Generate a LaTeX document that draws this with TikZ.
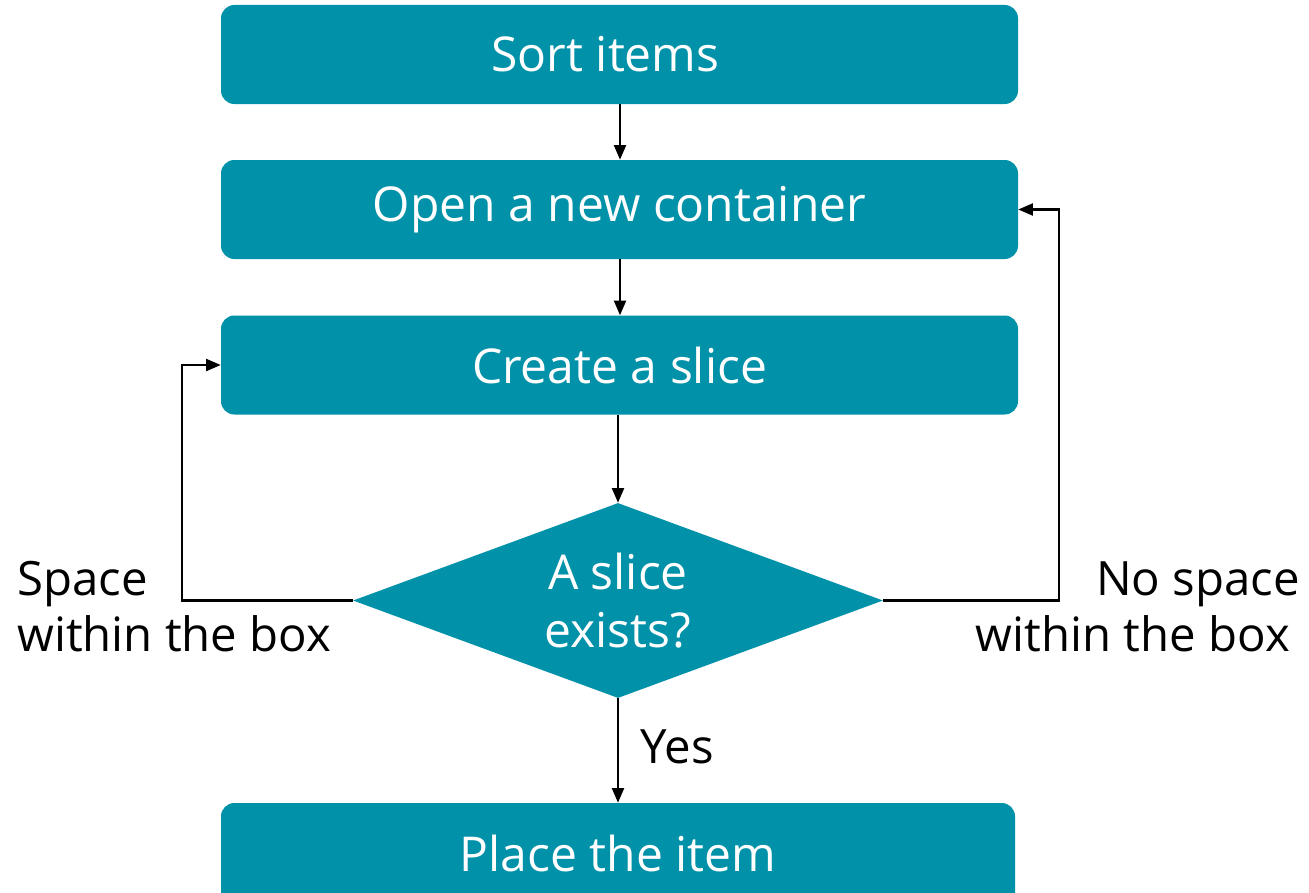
\documentclass[tikz,border=0pt]{standalone}
\usepackage{fontspec}
\setmainfont{Open Sans}
\usetikzlibrary{arrows.meta,shapes.geometric}
\definecolor{teal}{RGB}{1,145,168}
\begin{document}
\begin{tikzpicture}[x=0.75pt,y=-0.75pt,
  stepbox/.style={fill=teal,rounded corners=10pt,minimum width=797*0.75pt,
    minimum height=99*0.75pt,text=white,font=\fontsize{36}{42}\selectfont,inner sep=0pt},
  decision/.style={diamond,fill=teal,text=white,minimum width=530*0.75pt,
    minimum height=195*0.75pt,aspect=2.7,inner sep=0pt,align=center,
    font=\fontsize{36}{43}\selectfont},
  lbl/.style={font=\fontsize{35.5}{41}\selectfont,inner sep=0pt},
  flow/.style={draw=black,line width=1.6pt,-{Triangle[length=11pt,width=9pt]}}]
\useasboundingbox (0,0) rectangle (1309,892);
\node[stepbox] (sort) at (619.5,54.5) {\hspace*{-21pt}Sort items};
\node[stepbox] (open) at (619.5,209.5) {Open a new container};
\node[stepbox] (slice) at (619.5,365) {Create a slice};
\node[decision] (exists) at (618,600.5) {A slice\\exists?};
\node[stepbox,minimum width=794*0.75pt,minimum height=110*0.75pt] (place) at (618,858) {\raisebox{7.5pt}{Place the item}};
\coordinate (lcorner) at (182,600.5);
\coordinate (rcorner) at (1059,600.5);
\draw[flow] (sort.south -| 620,0) -- (open.north -| 620,0);
\draw[flow] (open.south -| 620,0) -- (slice.north -| 620,0);
\draw[flow] (slice.south -| exists.north) -- (exists.north);
\draw[flow] (exists.south) -- (place.north -| exists.south);
\draw[flow] (exists.west) -- (lcorner) |- (slice.west);
\draw[flow] (exists.east) -- (rcorner) |- (open.east);
\node[lbl,anchor=base west] (lsp) at (17,595) {Space};
\node[lbl,anchor=base west] (lwb) at (17,651) {within the box};
\node[lbl,anchor=base east] (rsp) at (1300,595) {No space};
\node[lbl,anchor=base east] (rwb) at (1290,651) {within the box};
\node[lbl,anchor=base west] (yes) at (640,763) {Yes};
\end{tikzpicture}
\end{document}
